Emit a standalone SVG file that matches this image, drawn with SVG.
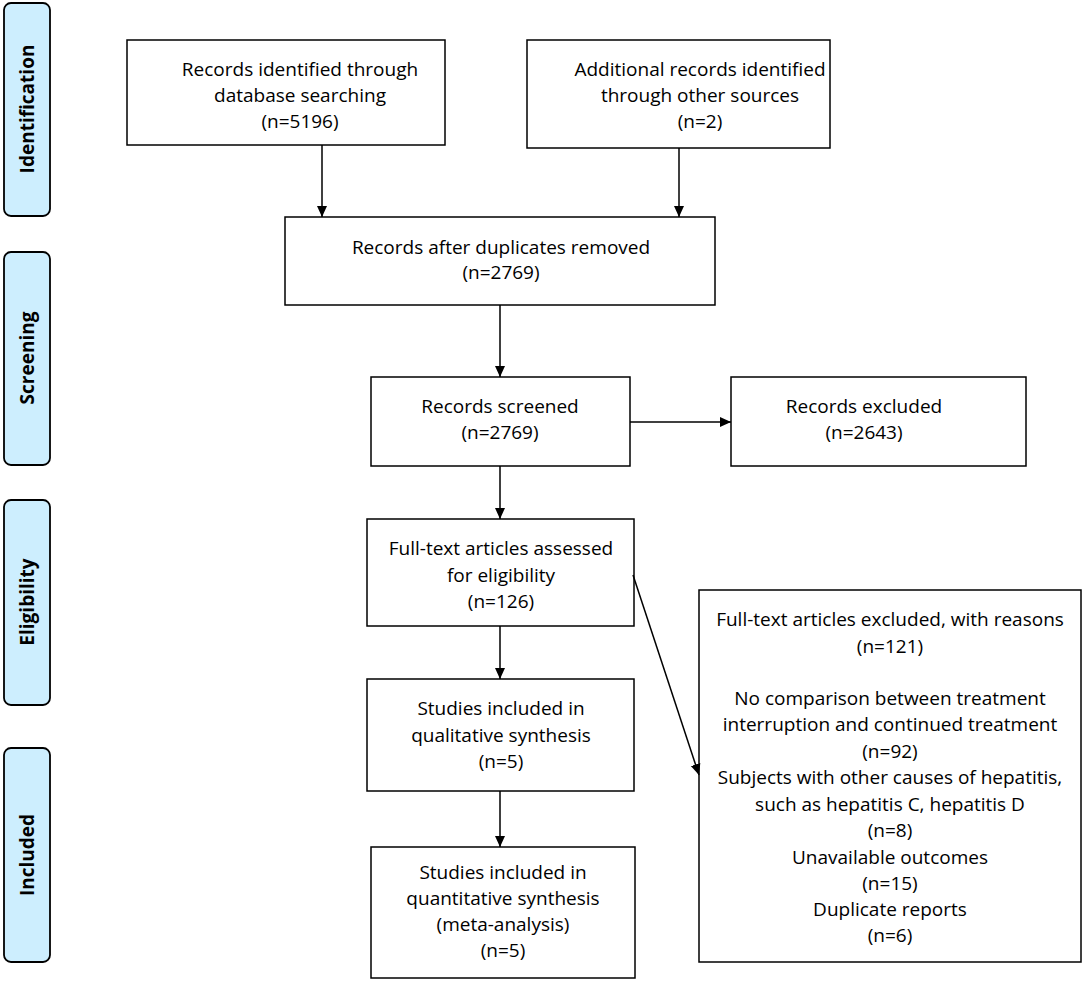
<svg xmlns="http://www.w3.org/2000/svg" width="1084" height="991" viewBox="0 0 1084 991">
<style>
.box{fill:#fff;stroke:#000;stroke-width:1.5}
.side{fill:#cdeefe;stroke:#000;stroke-width:1.8}
.t{font-family:"Open Sans","Liberation Sans",sans-serif;font-size:19px;fill:#000;text-anchor:middle;dominant-baseline:central}
.s{font-family:"Open Sans","Liberation Sans",sans-serif;font-size:19px;font-weight:bold;fill:#000;text-anchor:middle;dominant-baseline:central}
.c{stroke:#000;stroke-width:1.5;fill:none;marker-end:url(#ah)}
</style>
<defs>
<marker id="ah" markerWidth="12" markerHeight="12" refX="11" refY="6" orient="auto" markerUnits="userSpaceOnUse">
<path d="M0,1 L11,6 L0,11 Z" fill="#000"/>
</marker>
</defs>
<rect width="1084" height="991" fill="#fff"/>
<g id="side-identification"><rect class="side" x="4" y="3" width="46" height="213" rx="7"/><text class="s" transform="translate(27,109) rotate(-90)">Identification</text></g>
<g id="side-screening"><rect class="side" x="4" y="252" width="46" height="213" rx="7"/><text class="s" transform="translate(27,358) rotate(-90)">Screening</text></g>
<g id="side-eligibility"><rect class="side" x="4" y="500" width="46" height="205" rx="7"/><text class="s" transform="translate(27,602) rotate(-90)">Eligibility</text></g>
<g id="side-included"><rect class="side" x="4" y="748" width="46" height="214" rx="7"/><text class="s" transform="translate(27,855) rotate(-90)">Included</text></g>

<g id="n-database"><rect class="box" x="127" y="40" width="318" height="105"/>
<text class="t" x="300" y="69">Records identified through</text><text class="t" x="300" y="95">database searching</text><text class="t" x="300" y="121">(n=5196)</text></g>
<g id="n-other"><rect class="box" x="527" y="40" width="303" height="108"/>
<text class="t" x="700" y="69">Additional records identified</text><text class="t" x="700" y="95">through other sources</text><text class="t" x="700" y="121">(n=2)</text></g>
<g id="n-dedup"><rect class="box" x="285" y="217" width="430" height="88"/>
<text class="t" x="501" y="247">Records after duplicates removed</text><text class="t" x="501" y="272">(n=2769)</text></g>
<g id="n-screened"><rect class="box" x="371" y="377" width="259" height="89"/>
<text class="t" x="500" y="406">Records screened</text><text class="t" x="500" y="432">(n=2769)</text></g>
<g id="n-excluded"><rect class="box" x="731" y="377" width="295" height="89"/>
<text class="t" x="864" y="406">Records excluded</text><text class="t" x="864" y="432">(n=2643)</text></g>
<g id="n-fulltext"><rect class="box" x="367" y="519" width="267" height="107"/>
<text class="t" x="501" y="548">Full-text articles assessed</text><text class="t" x="501" y="575">for eligibility</text><text class="t" x="501" y="601">(n=126)</text></g>
<g id="n-qual"><rect class="box" x="367" y="679" width="267" height="112"/>
<text class="t" x="501" y="708">Studies included in</text><text class="t" x="501" y="735">qualitative synthesis</text><text class="t" x="501" y="761">(n=5)</text></g>
<g id="n-quant"><rect class="box" x="371" y="847" width="264" height="131"/>
<text class="t" x="503" y="872">Studies included in</text><text class="t" x="503" y="898">quantitative synthesis</text><text class="t" x="503" y="924">(meta-analysis)</text><text class="t" x="503" y="950">(n=5)</text></g>
<g id="n-ftexcluded"><rect class="box" x="699" y="590" width="382" height="372"/>
<text class="t" x="890" y="619">Full-text articles excluded, with reasons</text>
<text class="t" x="890" y="646">(n=121)</text>
<text class="t" x="890" y="698">No comparison between treatment</text>
<text class="t" x="890" y="724">interruption and continued treatment</text>
<text class="t" x="890" y="751">(n=92)</text>
<text class="t" x="890" y="777">Subjects with other causes of hepatitis,</text>
<text class="t" x="890" y="804">such as hepatitis C, hepatitis D</text>
<text class="t" x="890" y="830">(n=8)</text>
<text class="t" x="890" y="857">Unavailable outcomes</text>
<text class="t" x="890" y="883">(n=15)</text>
<text class="t" x="890" y="909">Duplicate reports</text>
<text class="t" x="890" y="935">(n=6)</text></g>

<g id="connectors">
<line class="c" x1="322" y1="145" x2="322" y2="217"/>
<line class="c" x1="679" y1="148" x2="679" y2="217"/>
<line class="c" x1="500" y1="305" x2="500" y2="377"/>
<line class="c" x1="630" y1="422" x2="731" y2="422"/>
<line class="c" x1="500" y1="466" x2="500" y2="519"/>
<line class="c" x1="633" y1="575" x2="699" y2="775"/>
<line class="c" x1="500" y1="626" x2="500" y2="679"/>
<line class="c" x1="500" y1="791" x2="500" y2="847"/>
</g>
</svg>
